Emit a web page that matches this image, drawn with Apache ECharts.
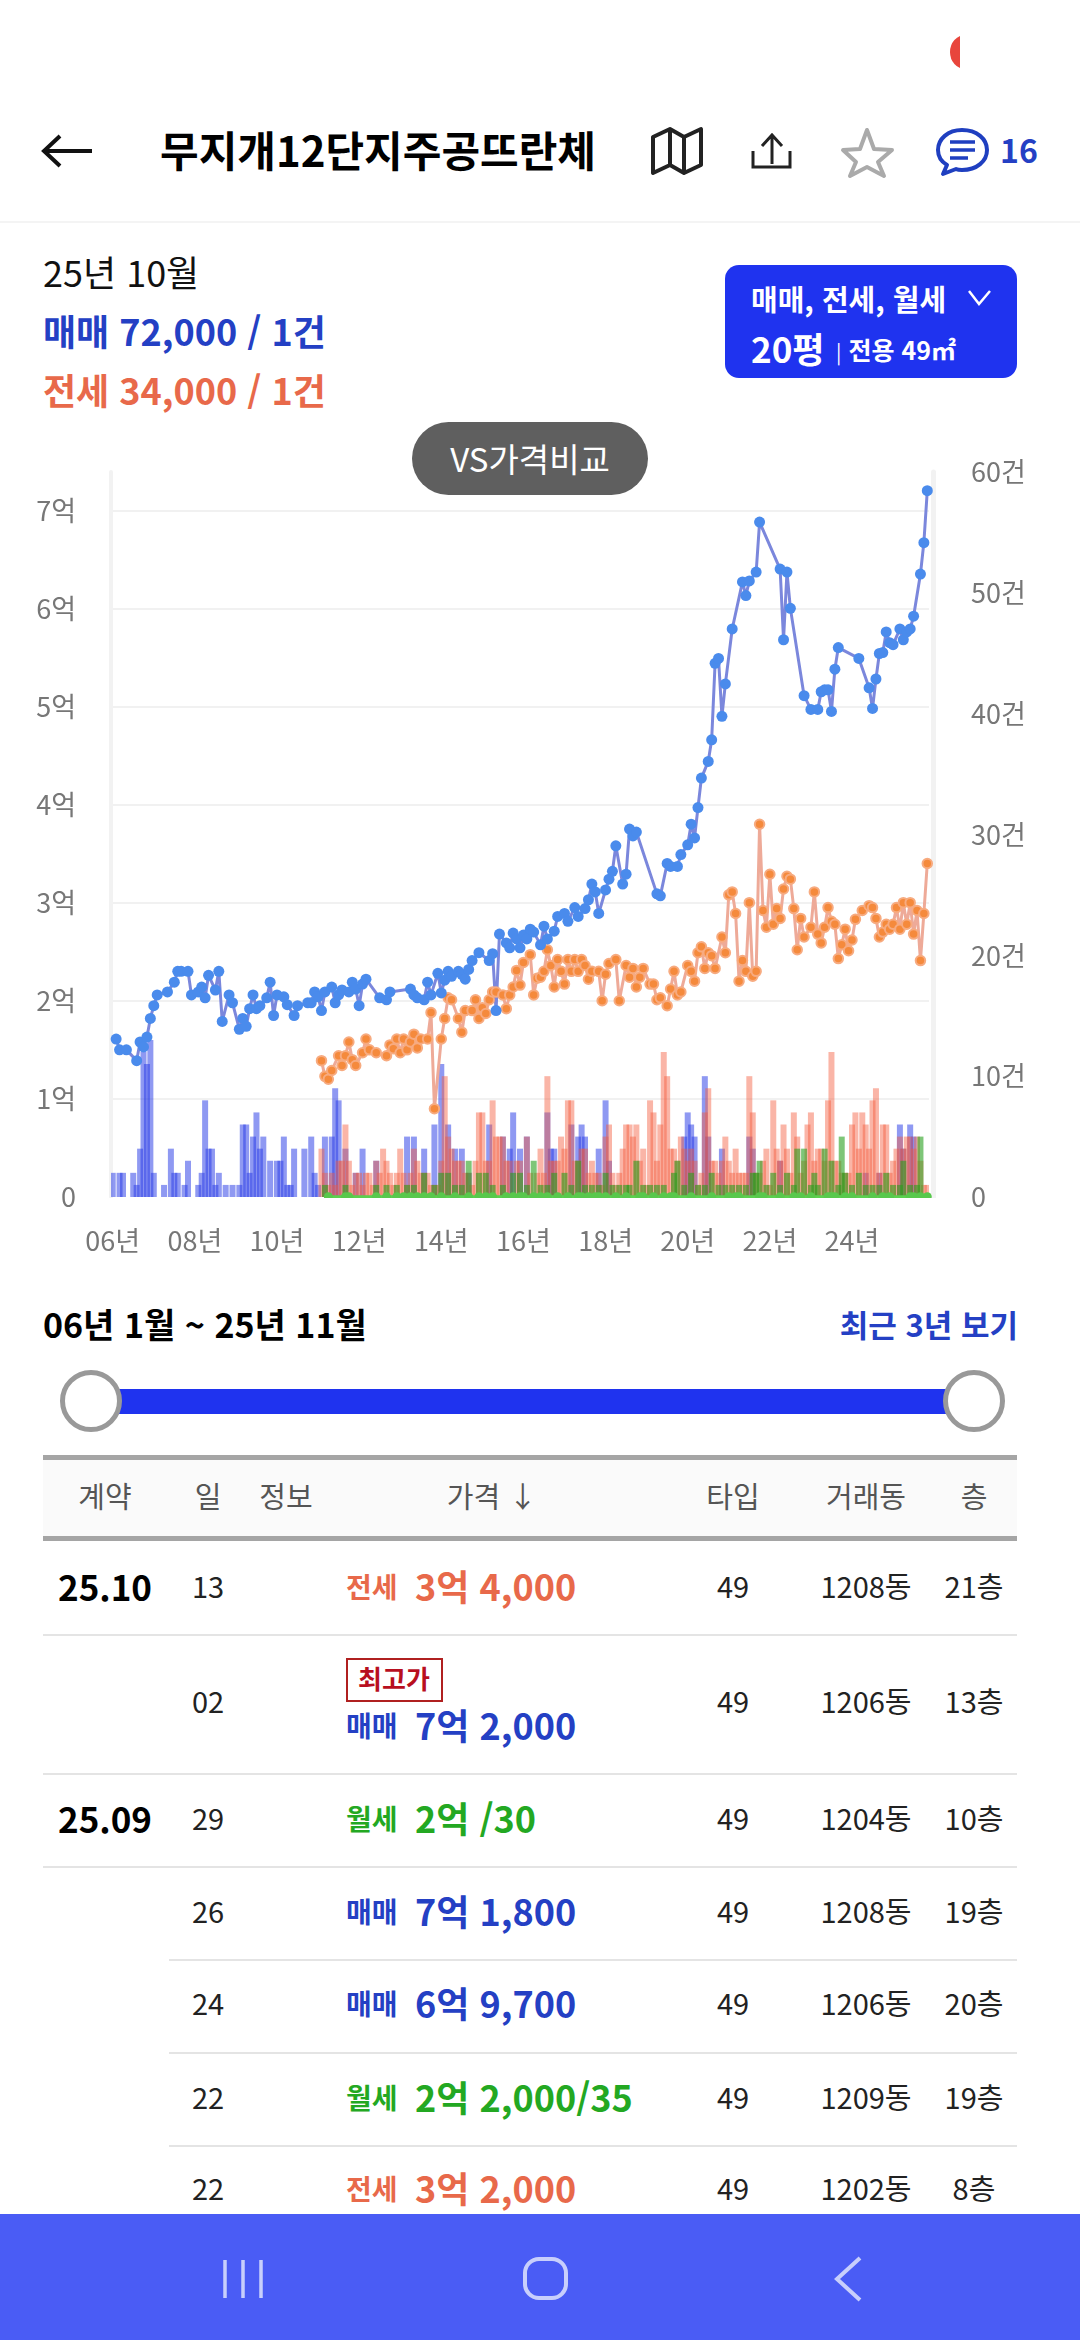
<!DOCTYPE html>
<html lang="ko">
<head>
<meta charset="utf-8">
<title>무지개12단지주공뜨란체</title>
<script src="https://cdn.jsdelivr.net/npm/echarts@6/dist/echarts.min.js"></script>
<style>
  html, body { margin: 0; padding: 0; background: #fff; }
  body { position: relative; width: 1080px; height: 2340px; overflow: hidden; font-family: "Noto Sans CJK KR", "Noto Sans", sans-serif; color: #111; }
  #chart { position: absolute; left: 0; top: 430px; width: 1080px; height: 840px; }
  .t { position: absolute; white-space: nowrap; line-height: 1; transform: translateY(-50%); }
  .c { transform: translate(-50%, -50%); }
  .abs { position: absolute; }
  svg.abs { overflow: visible; }
  .blue { color: #2440c4; } .red { color: #e8694a; } .green { color: #23a822; }
</style>
</head>
<body>
<div class="abs" style="left:950px;top:35px;width:10px;height:34px;overflow:hidden"><div style="width:30px;height:34px;border-radius:50%;background:#e8453c"></div></div>

<svg class="abs" style="left:0;top:0" width="1080" height="220" fill="none">
  <path d="M44 151H92M60 136L44 151L60 166" stroke="#111" stroke-width="4"/>
  <path d="M653 138L670 130L684 138L701 130V166L684 174L670 166L653 174ZM670 130V166M684 138V174" transform="translate(0,-1)" stroke="#222" stroke-width="4" stroke-linejoin="round"/>
  <path d="M772 164V136M762 146L772 135L782 146M753 151V167H790V151" stroke="#222" stroke-width="3"/>
  <path d="M867 130L874 149L892 150L878 162L884 176L867 167L850 176L856 162L843 150L860 149Z" stroke="#aaa" stroke-width="4" stroke-linejoin="round"/>
  <g transform="translate(2,0)">
    <path d="M960 130C946 130 936 139 936 150C936 157 940 162 945 165L941 174L954 169C956 170 958 170 960 170C975 170 985 161 985 150C985 139 975 130 960 130Z" stroke="#1f3fc0" stroke-width="4" stroke-linejoin="round"/>
    <path d="M948 142H973M948 150H973M948 158H966" stroke="#1f3fc0" stroke-width="3.5"/>
  </g>
</svg>
<div class="t" style="left:160px;top:149px;font-size:42px;font-weight:700;color:#000">무지개12단지주공뜨란체</div>
<div class="t blue" style="left:1000px;top:149px;font-size:32px;font-weight:700">16</div>
<div class="abs" style="left:0;top:221px;width:1080px;height:2px;background:#f4f4f4"></div>

<div class="t" style="left:43px;top:271px;font-size:36px">25년 10월</div>
<div class="t blue" style="left:43px;top:330px;font-size:36px;font-weight:700">매매 72,000 / 1건</div>
<div class="t red" style="left:43px;top:389px;font-size:36px;font-weight:700">전세 34,000 / 1건</div>

<div class="abs" style="left:725px;top:265px;width:292px;height:113px;border-radius:14px;background:#1f33ef"></div>
<div class="t" style="left:751px;top:298px;font-size:29px;font-weight:700;color:#fff">매매, 전세, 월세</div>
<svg class="abs" style="left:968px;top:288px" width="24" height="20" fill="none"><path d="M1 3L11 16L22 3" stroke="#fff" stroke-width="2.5"/></svg>
<div class="t" style="left:751px;top:347px;font-size:35px;font-weight:700;color:#fff">20평</div>
<div class="t" style="left:836px;top:349px;font-size:25px;font-weight:700;color:#fff"><span style="font-weight:400;font-size:20px">|</span> 전용 49㎡</div>

<div id="chart"></div>
<div class="abs" style="left:412px;top:422px;width:236px;height:73px;border-radius:37px;background:#5f5f5f"></div>
<div class="t c" style="left:530px;top:458px;font-size:33px;color:#fff">VS가격비교</div>

<div class="t" style="left:43px;top:1324px;font-size:34px;font-weight:700;color:#000">06년 1월 ~ 25년 11월</div>
<div class="t blue" style="right:62px;top:1323px;font-size:31px;font-weight:700">최근 3년 보기</div>
<div class="abs" style="left:115px;top:1389px;width:835px;height:25px;background:#1f33ef"></div>
<div class="abs" style="left:60px;top:1370px;width:52px;height:52px;border:5px solid #999;border-radius:50%;background:#fff"></div>
<div class="abs" style="left:943px;top:1370px;width:52px;height:52px;border:5px solid #999;border-radius:50%;background:#fff"></div>

<div class="abs" style="left:43px;top:1455px;width:974px;height:82px;background:#fafafa"></div>
<div class="abs" style="left:43px;top:1455px;width:974px;height:5px;background:#a5a5a5"></div>
<div class="abs" style="left:43px;top:1536px;width:974px;height:5px;background:#a5a5a5"></div>
<div id="table"></div>

<div class="abs" style="left:0;top:2214px;width:1080px;height:126px;background:#4a5cf5"></div>
<svg class="abs" style="left:0;top:2214px" width="1080" height="126" fill="none" stroke="#c8cffc">
  <path d="M225 46V84M243 46V84M261 46V84" stroke-width="3.5"/>
  <rect x="525" y="45" width="41" height="39" rx="14" stroke-width="4"/>
  <path d="M860 44L837 65L860 86" stroke-width="4"/>
</svg>

<script>
// 거래가 [월 번호(06.01 = 0), 억]
const salePrice = [[1,1.61],[2,1.50],[4,1.50],[7,1.39],[8,1.58],[9,1.53],[10,1.63],[11,1.82],[12,1.95],[13,2.06],[16,2.09],[18,2.19],[19,2.30],[20,2.30],[22,2.30],[23,2.06],[25,2.09],[26,2.14],[27,2.03],[28,2.26],[30,2.11],[31,2.30],[32,1.79],[34,2.06],[35,1.98],[37,1.71],[38,1.82],[39,1.74],[40,1.92],[41,2.06],[42,1.92],[43,1.95],[45,2.03],[46,2.19],[47,1.85],[48,2.06],[50,2.04],[51,1.96],[53,1.85],[54,1.95],[57,1.98],[58,1.98],[59,2.09],[60,2.04],[61,1.90],[62,2.09],[64,2.14],[65,1.98],[66,2.06],[67,2.11],[69,2.09],[70,2.19],[71,2.12],[72,1.95],[73,2.17],[74,2.22],[78,2.03],[80,2.01],[81,2.09],[87,2.12],[88,2.06],[89,2.03],[91,2.01],[92,2.19],[93,2.06],[95,2.28],[96,2.08],[97,2.21],[98,2.30],[99,2.25],[101,2.30],[102,2.27],[103,2.22],[104,2.32],[105,2.41],[107,2.49],[110,2.41],[111,2.48],[112,1.90],[113,2.68],[115,2.59],[116,2.54],[117,2.69],[118,2.63],[119,2.54],[120,2.67],[121,2.63],[122,2.73],[123,2.70],[125,2.57],[126,2.76],[127,2.63],[129,2.71],[130,2.86],[132,2.89],[133,2.81],[135,2.95],[136,2.86],[138,2.94],[139,3.03],[140,3.19],[141,3.11],[142,2.89],[144,3.13],[145,3.24],[146,3.32],[147,3.58],[149,3.19],[150,3.29],[151,3.75],[152,3.68],[153,3.72],[159,3.09],[160,3.07],[162,3.40],[163,3.37],[165,3.37],[166,3.49],[168,3.59],[169,3.80],[170,3.66],[171,3.97],[172,4.27],[174,4.44],[175,4.66],[176,5.44],[177,5.49],[178,4.90],[179,5.23],[181,5.79],[184,6.27],[185,6.13],[186,6.28],[188,6.37],[189,6.88],[195,6.40],[196,5.68],[197,6.37],[198,6.00],[202,5.11],[204,4.97],[206,4.97],[207,5.15],[208,5.17],[209,5.17],[210,4.95],[211,5.38],[212,5.60],[218,5.49],[221,5.19],[222,4.98],[223,5.28],[224,5.54],[225,5.55],[226,5.76],[227,5.65],[228,5.63],[230,5.79],[231,5.68],[232,5.76],[233,5.79],[234,5.92],[236,6.35],[237,6.67],[238,7.20]]
const jeonsePrice = [[61,1.39],[62,1.23],[63,1.20],[64,1.29],[66,1.44],[67,1.34],[68,1.44],[69,1.58],[70,1.40],[71,1.34],[73,1.47],[74,1.61],[75,1.50],[77,1.47],[80,1.44],[81,1.55],[82,1.51],[83,1.61],[84,1.47],[85,1.61],[86,1.50],[87,1.58],[88,1.66],[89,1.52],[90,1.61],[92,1.61],[93,1.88],[94,0.90],[96,1.61],[97,1.82],[98,2.03],[99,2.01],[101,1.82],[102,1.68],[103,1.90],[105,1.90],[106,2.01],[107,1.82],[108,1.93],[109,1.87],[110,2.01],[111,2.09],[112,2.09],[114,2.06],[115,1.92],[116,2.06],[117,2.14],[118,2.31],[119,2.16],[120,2.39],[122,2.47],[123,2.06],[124,2.23],[125,2.24],[126,2.30],[127,2.52],[128,2.36],[129,2.14],[130,2.42],[131,2.30],[132,2.17],[133,2.42],[134,2.30],[135,2.42],[136,2.30],[137,2.42],[138,2.36],[139,2.22],[140,2.30],[142,2.30],[143,2.00],[144,2.27],[145,2.38],[147,2.42],[148,2.00],[150,2.36],[151,2.24],[152,2.33],[153,2.14],[154,2.24],[155,2.33],[157,2.17],[158,2.17],[159,2.01],[160,2.03],[162,1.95],[163,2.12],[164,2.30],[165,2.06],[166,2.09],[168,2.36],[169,2.30],[170,2.20],[171,2.49],[172,2.55],[173,2.33],[174,2.49],[175,2.46],[176,2.33],[178,2.65],[179,2.49],[180,3.08],[181,3.11],[182,2.89],[183,2.20],[184,2.41],[185,2.30],[186,3.00],[187,2.25],[188,2.30],[189,3.80],[190,2.92],[191,2.75],[192,3.29],[193,2.78],[194,2.94],[195,2.84],[196,3.14],[197,3.27],[198,3.24],[199,2.94],[200,2.52],[201,2.84],[202,2.65],[204,2.75],[205,3.11],[206,2.68],[207,2.59],[208,2.75],[209,2.95],[210,2.81],[211,2.78],[212,2.43],[213,2.57],[214,2.73],[215,2.51],[216,2.62],[217,2.83],[219,2.92],[221,2.97],[222,2.95],[223,2.84],[224,2.65],[225,2.70],[226,2.78],[227,2.73],[228,2.78],[229,2.95],[230,2.73],[231,3.00],[232,2.78],[233,3.00],[234,2.68],[235,2.92],[236,2.41],[237,2.89],[238,3.40]]
// 월세는 월 임대료 기준이라 바닥에 붙어 있음
const wolsePrice = [[63,0.003],[68,0.003],[69,0.0025],[77,0.003],[80,0.003],[83,0.0035],[85,0.003],[87,0.003],[89,0.0025],[91,0.003],[93,0.003],[96,0.003],[100,0.003],[104,0.0035],[107,0.003],[109,0.003],[111,0.003],[115,0.003],[117,0.0035],[119,0.003],[120,0.003],[123,0.003],[125,0.003],[127,0.003],[130,0.0035],[133,0.003],[136,0.003],[137,0.003],[139,0.003],[141,0.003],[142,0.0035],[144,0.003],[147,0.003],[150,0.003],[154,0.003],[155,0.003],[158,0.003],[161,0.0035],[163,0.003],[164,0.003],[169,0.003],[175,0.003],[180,0.003],[182,0.003],[183,0.0035],[189,0.003],[190,0.003],[195,0.003],[199,0.003],[201,0.003],[204,0.003],[209,0.0035],[210,0.003],[211,0.003],[214,0.003],[216,0.003],[222,0.003],[225,0.0035],[227,0.003],[233,0.003],[234,0.003],[236,0.0035],[238,0.003]]

// 거래량 [월 번호, 건]
const saleCount = [[0,2],[2,2],[3,2],[6,2],[7,1],[8,4],[9,12],[10,11],[11,13],[12,2],[15,1],[17,4],[18,2],[19,2],[21,1],[22,3],[25,1],[26,2],[27,8],[28,4],[29,4],[30,1],[31,2],[33,1],[35,1],[37,1],[38,6],[39,6],[40,2],[41,5],[42,7],[43,4],[44,5],[46,3],[48,3],[49,3],[50,5],[51,1],[52,1],[53,4],[56,4],[58,5],[59,2],[60,1],[62,5],[64,5],[65,9],[66,8],[68,4],[71,2],[73,4],[77,3],[86,5],[88,5],[91,4],[94,6],[96,11],[98,6],[100,4],[102,4],[104,2],[110,6],[114,5],[116,4],[117,7],[119,4],[121,5],[127,7],[128,4],[129,4],[134,6],[136,5],[137,6],[138,5],[142,4],[144,8],[145,3],[167,5],[168,7],[169,6],[170,5],[173,10],[174,5],[178,4],[186,5],[187,4],[195,3],[220,2],[224,2],[230,6],[231,4],[233,6],[234,5]]
const jeonseCount = [[61,4],[62,2],[63,1],[64,2],[65,1],[66,3],[67,3],[68,6],[69,3],[70,1],[71,2],[72,2],[73,1],[74,2],[75,2],[76,1],[77,3],[78,2],[79,4],[80,3],[81,2],[82,1],[83,2],[84,4],[85,2],[86,1],[87,2],[88,4],[89,3],[90,2],[91,2],[92,2],[93,1],[94,1],[95,1],[96,3],[97,10],[98,5],[99,4],[100,3],[101,3],[102,3],[103,2],[104,2],[105,1],[106,3],[107,7],[108,7],[109,3],[110,3],[111,8],[112,5],[113,5],[114,5],[115,3],[116,3],[118,3],[119,3],[121,5],[122,2],[124,2],[125,4],[126,2],[127,10],[128,3],[129,3],[130,3],[131,5],[132,4],[133,8],[134,8],[135,3],[136,3],[137,4],[138,4],[139,2],[140,3],[141,2],[142,2],[143,1],[144,5],[145,6],[146,2],[147,1],[148,2],[149,4],[150,6],[151,6],[152,5],[153,6],[154,3],[155,4],[156,1],[157,8],[158,7],[159,3],[160,6],[161,12],[162,10],[163,4],[164,4],[165,3],[166,5],[167,4],[168,3],[169,4],[170,3],[171,1],[172,2],[173,7],[174,9],[175,3],[176,3],[177,2],[178,3],[179,5],[180,3],[181,2],[182,4],[183,2],[184,2],[185,2],[186,10],[187,7],[188,2],[189,2],[190,3],[191,4],[192,1],[193,8],[194,4],[195,3],[196,6],[197,4],[198,2],[199,7],[200,5],[201,2],[202,3],[203,6],[204,7],[205,3],[206,4],[207,4],[208,3],[209,8],[210,12],[211,3],[212,3],[213,2],[214,2],[215,2],[216,6],[217,7],[218,4],[219,7],[220,6],[221,4],[222,8],[223,9],[224,2],[225,6],[226,6],[227,2],[228,3],[229,4],[230,5],[231,4],[232,5],[233,5],[234,4],[235,5],[236,3],[237,1],[238,1]]
const wolseCount = [[62,1],[68,1],[77,1],[80,1],[83,1],[86,1],[88,1],[91,2],[94,1],[96,2],[98,2],[100,1],[102,1],[104,3],[107,2],[109,2],[111,1],[114,1],[117,2],[119,2],[121,1],[123,3],[125,1],[127,1],[129,2],[132,2],[134,1],[136,3],[138,1],[140,1],[142,1],[144,2],[146,1],[148,1],[150,1],[151,1],[153,3],[155,1],[157,1],[159,1],[161,1],[164,2],[165,3],[167,1],[169,2],[171,1],[173,1],[175,2],[177,1],[179,1],[181,1],[183,1],[185,1],[187,2],[188,2],[189,3],[191,1],[193,2],[195,1],[197,2],[199,1],[200,4],[202,4],[204,1],[205,2],[206,1],[208,4],[210,3],[212,1],[213,5],[214,2],[216,1],[218,2],[220,1],[222,1],[224,1],[226,2],[228,1],[230,1],[231,3],[233,1],[235,1],[236,5]]

const tableHead = [['계약',105],['일',208],['정보',286],['가격 ↓',492],['타입',733],['거래동',866],['층',974]]
const tableRows = [
  ['25.10','13','전세','3억 4,000','49','1208동','21층'],
  ['','02','매매','7억 2,000','49','1206동','13층'],
  ['25.09','29','월세','2억 /30','49','1204동','10층'],
  ['','26','매매','7억 1,800','49','1208동','19층'],
  ['','24','매매','6억 9,700','49','1206동','20층'],
  ['','22','월세','2억 2,000/35','49','1209동','19층'],
  ['','22','전세','3억 2,000','49','1202동','8층']
]
const rowCenter = [1585,1700,1817,1910,2002,2096,2187]
const rowLine = [[1634,43],[1773,43],[1866,43],[1959,169],[2052,169],[2145,169]]
const typeClass = { '매매': 'blue', '전세': 'red', '월세': 'green' }

// 표는 그냥 DOM으로
let html = ''
const text = (x, y, s, style, cls) => `<div class="t ${cls || 'c'}" style="left:${x}px;top:${y}px;${style}">${s}</div>`
tableHead.forEach(h => { html += text(h[1], 1495, h[0], 'font-size:29px;color:#555') })
tableRows.forEach((r, i) => {
  const y = rowCenter[i]
  const py = i === 1 ? 1724 : y
  if (r[0]) html += text(105, y, r[0], 'font-size:35px;font-weight:700;color:#000')
  html += text(208, y, r[1], 'font-size:29px;color:#222')
  html += text(346, py + 1, r[2], 'font-size:28px;font-weight:700', typeClass[r[2]])
  html += text(415, py, r[3], 'font-size:36px;font-weight:700', typeClass[r[2]])
  html += text(733, y, r[4], 'font-size:29px;color:#222')
  html += text(866, y, r[5], 'font-size:29px;color:#222')
  html += text(974, y, r[6], 'font-size:29px;color:#222')
})
rowLine.forEach(l => { html += `<div class="abs" style="left:${l[1]}px;top:${l[0]}px;width:${1017 - l[1]}px;height:2px;background:#e4e4e4"></div>` })
html += `<div class="abs" style="left:346px;top:1658px;width:93px;height:40px;border:2px solid #b02020"></div>`
html += text(394, 1678, '최고가', 'font-size:26px;font-weight:700;color:#b80f1f')
document.getElementById('table').innerHTML = html

// 06년 1월 ~ 25년 11월
const months = []
for (let y = 6; y <= 25; y++) {
  for (let m = 1; m <= 12; m++) {
    if (y === 25 && m > 11) break
    months.push(String(y).padStart(2, '0') + '년 ' + m + '월')
  }
}

const chart = echarts.init(document.getElementById('chart'), null, { renderer: 'canvas' })
const font = '"Noto Sans CJK KR", sans-serif'
const barSeries = (name, data, color) => ({
  name, type: 'bar', data, yAxisIndex: 1, barWidth: 6, barGap: '-100%',
  itemStyle: { color }, silent: true
})
const lineSeries = (name, data, lineColor, dotColor, border, size) => ({
  name, type: 'line', data, yAxisIndex: 0, symbol: 'circle', symbolSize: size,
  showSymbol: true, showAllSymbol: true, z: 5,
  lineStyle: { color: lineColor, width: 3 },
  itemStyle: { color: dotColor, borderColor: border, borderWidth: border === dotColor ? 0 : 2 }
})

chart.setOption({
  animation: false,
  grid: { left: 111, top: 42, width: 818, height: 725, containLabel: false },
  xAxis: {
    type: 'category', data: months, boundaryGap: true,
    axisLine: { show: false }, axisTick: { show: false },
    axisLabel: {
      interval: i => i % 24 === 0, margin: 30, fontSize: 27, color: '#777', fontFamily: font,
      formatter: v => v.split(' ')[0]
    }
  },
  yAxis: [
    {
      type: 'value', min: 0, max: 7.39, interval: 1, position: 'left',
      axisLine: { show: true, lineStyle: { color: '#f2f2f2', width: 4 } }, axisTick: { show: false },
      splitLine: { lineStyle: { color: '#f1f1f1', width: 2 }, showMinLine: false, showMaxLine: false },
      axisLabel: {
        margin: 35, fontSize: 27, color: '#777', fontFamily: font, showMaxLabel: false,
        formatter: v => v === 0 ? '0' : v + '억'
      }
    },
    {
      type: 'value', min: 0, max: 60, interval: 10, position: 'right', offset: 4,
      axisLine: { show: true, lineStyle: { color: '#f2f2f2', width: 5 } }, axisTick: { show: false },
      splitLine: { show: false },
      axisLabel: {
        margin: 38, fontSize: 27, color: '#777', fontFamily: font,
        formatter: v => v === 0 ? '0' : v + '건'
      }
    }
  ],
  series: [
    barSeries('매매 거래량', saleCount, 'rgba(40,60,230,0.52)'),
    barSeries('전세 거래량', jeonseCount, 'rgba(245,90,60,0.45)'),
    barSeries('월세 거래량', wolseCount, 'rgba(40,160,30,0.6)'),
    lineSeries('월세', wolsePrice, '#5bd04f', '#58c84c', '#58c84c', 9),
    lineSeries('전세', jeonsePrice, '#eeaa98', '#f58a3c', '#f7ab80', 9.5),
    lineSeries('매매', salePrice, '#7b87dc', '#4a8bec', '#4a8bec', 11)
  ],
  // 월세 점 아래쪽 가리기
  graphic: [{
    type: 'rect', z: 100, silent: true,
    shape: { x: 100, y: 768, width: 845, height: 8 },
    style: { fill: '#fff' }
  }]
})
</script>
</body>
</html>
